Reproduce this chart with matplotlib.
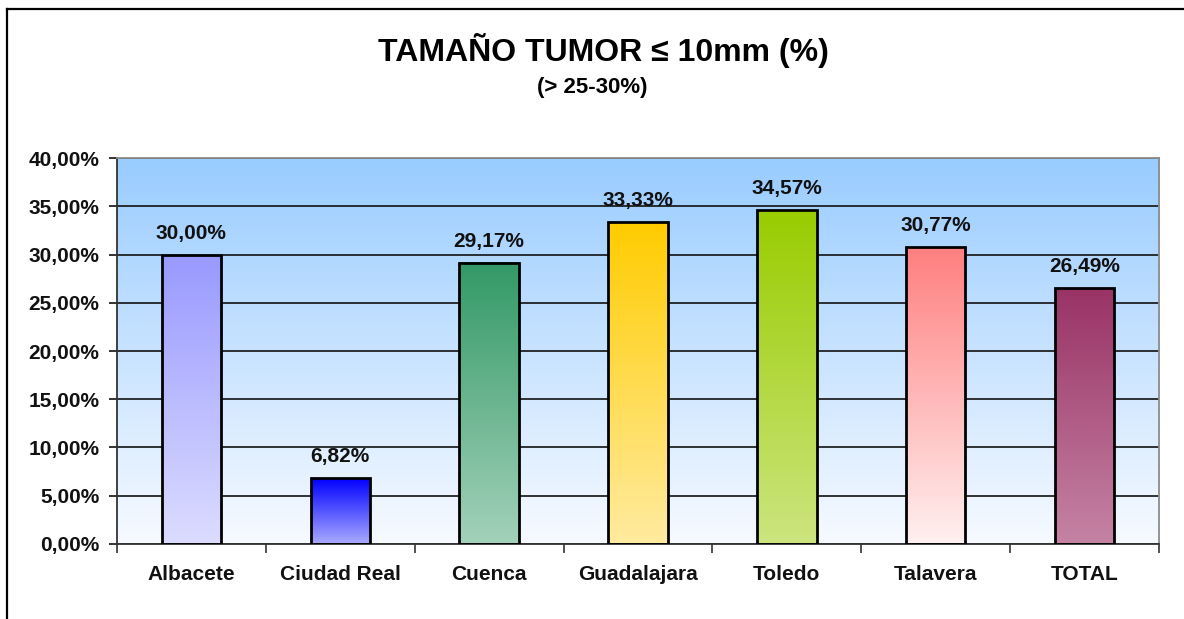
import numpy as np
import matplotlib.pyplot as plt
from matplotlib.colors import LinearSegmentedColormap, to_rgb
from matplotlib.lines import Line2D
from matplotlib.ticker import FuncFormatter, FixedLocator

# Data
categories = ["Albacete", "Ciudad Real", "Cuenca", "Guadalajara", "Toledo", "Talavera", "TOTAL"]
values = [30.00, 6.82, 29.17, 33.33, 34.57, 30.77, 26.49]
top_colors = ["#9999FF", "#0000FF", "#339966", "#FFCC00", "#99CC00", "#FF7F7F", "#993366"]
bottom_colors = ["#DCDCFF", "#AAAAFF", "#A3D1BA", "#FFEBA0", "#CCE57F", "#FFF0F0", "#C583A4"]
yticks = [0, 5, 10, 15, 20, 25, 30, 35, 40]

plt.rcParams['font.family'] = ['Liberation Sans', 'DejaVu Sans']
plt.rcParams['font.weight'] = 'bold'

fig = plt.figure(figsize=(11.84, 6.19), dpi=100)
ax = fig.add_axes([0.0988, 0.1212, 0.8801, 0.6235])

x = np.arange(len(categories))
ax.set_xlim(-0.5, len(categories) - 0.5)
ax.set_ylim(0, 40)

# plot area background gradient (light blue at top to near white)
bg = LinearSegmentedColormap.from_list("bg", ["#F7FAFF", "#99CCFF"])
grad = np.linspace(0, 1, 256).reshape(-1, 1)
ax.imshow(grad, cmap=bg, origin="lower", aspect="auto",
          extent=[-0.5, len(categories) - 0.5, 0, 40], zorder=0)

ax.set_axisbelow(True)
ax.yaxis.grid(True, color="#111111", linewidth=1.2, zorder=0.5)

bars = ax.bar(x, values, width=0.40, facecolor="none", edgecolor="black",
              linewidth=2.0, zorder=3)

for b, ct, cb in zip(bars, top_colors, bottom_colors):
    cmap = LinearSegmentedColormap.from_list("g", [to_rgb(cb), to_rgb(ct)])
    x0 = b.get_x()
    ax.imshow(grad, cmap=cmap, origin="lower", aspect="auto",
              extent=[x0, x0 + b.get_width(), 0, b.get_height()], zorder=2)
    ax.annotate(f"{b.get_height():.2f}%".replace(".", ","),
                (x0 + b.get_width() / 2, b.get_height()),
                xytext=(0, 11.5), textcoords="offset points",
                ha="center", va="baseline", fontsize=15, fontweight="bold",
                color="#111111")

ax.set_xlim(-0.5, len(categories) - 0.5)
ax.set_ylim(0, 40)

# y axis
ax.set_yticks(yticks)
ax.yaxis.set_major_formatter(FuncFormatter(lambda v, p: f"{v:.2f}%".replace(".", ",")))
ax.tick_params(axis="y", length=5.5, width=1.2, pad=7, labelsize=15, colors="#111111")

# x axis: labels at centers, ticks at category boundaries
ax.set_xticks(x)
ax.set_xticklabels(categories)
ax.xaxis.set_minor_locator(FixedLocator(np.arange(-0.5, len(categories), 1.0)))
ax.tick_params(axis="x", which="major", length=0, pad=15, labelsize=15, colors="#111111")
ax.tick_params(axis="x", which="minor", length=6.5, width=1.2, color="#333333")

for lab in ax.get_xticklabels() + ax.get_yticklabels():
    lab.set_fontweight("bold")

for s in ["left", "bottom"]:
    ax.spines[s].set_color("#333333")
    ax.spines[s].set_linewidth(1.3)
for s in ["top", "right"]:
    ax.spines[s].set_color("#8C8C8C")
    ax.spines[s].set_linewidth(1.3)

# titles
fig.text(0.51, 1 - 51 / 619, "TAMAÑO TUMOR ≤ 10mm (%)", ha="center", va="center",
         fontsize=23, fontweight="bold", color="black")
fig.text(0.50, 1 - 88 / 619, "(> 25-30%)", ha="center", va="center",
         fontsize=16, fontweight="bold", color="black")

# outer frame (top and left edges visible)
fig.add_artist(Line2D([7 / 1184, 1], [1 - 9 / 619, 1 - 9 / 619], transform=fig.transFigure,
                      color="black", linewidth=1.6))
fig.add_artist(Line2D([7 / 1184, 7 / 1184], [0, 1 - 9 / 619], transform=fig.transFigure,
                      color="black", linewidth=1.6))

plt.savefig("out.png", dpi=100)
